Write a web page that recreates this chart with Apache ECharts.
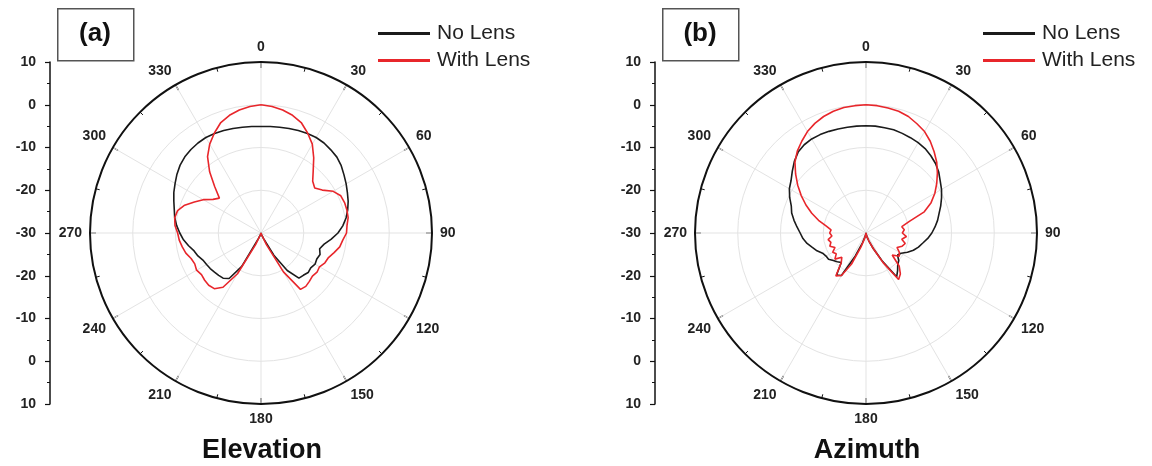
<!DOCTYPE html>
<html>
<head>
<meta charset="utf-8">
<script src="https://cdn.jsdelivr.net/npm/echarts@6/dist/echarts.min.js"></script>
<style>
  html, body { margin: 0; padding: 0; background: #ffffff; }
  #chart { width: 1152px; height: 466px; }
</style>
</head>
<body>
<div id="chart"></div>
<script>
// Measured radiation patterns (dB), sampled every 5 degrees from 0 to 355.
const angles = [
  0, 5, 10, 15, 20, 25, 30, 35, 40, 45, 50, 55,
  60, 65, 70, 75, 80, 85, 90, 95, 100, 105, 110, 115,
  120, 125, 130, 135, 140, 145, 150, 155, 160, 165, 170, 175,
  180, 185, 190, 195, 200, 205, 210, 215, 220, 225, 230, 235,
  240, 245, 250, 255, 260, 265, 270, 275, 280, 285, 290, 295,
  300, 305, 310, 315, 320, 325, 330, 335, 340, 345, 350, 355
];

// Elevation plane
const elevNoLens = [
  -5.1, -5.0, -4.9, -4.7, -4.5, -4.3, -4.2, -4.3, -4.6, -4.9, -5.5, -6.3,
  -7.0, -7.7, -8.3, -9.0, -9.8, -10.8, -12.0, -13.5, -15.0, -15.8, -15.3, -15.6,
  -15.4, -15.8, -15.6, -16.0, -16.2, -19.3, -24.0, -28.5, -29.5, -29.8, -30.0, -30.0,
  -30.0, -30.0, -30.0, -29.8, -29.5, -28.5, -21.0, -17.0, -16.2, -16.0, -15.8, -15.5,
  -15.3, -15.0, -14.3, -13.8, -12.8, -11.8, -11.0, -10.2, -9.5, -9.0, -8.3, -7.5,
  -6.8, -6.0, -5.3, -4.8, -4.5, -4.3, -4.2, -4.3, -4.5, -4.7, -4.9, -5.0
];
const elevWithLens = [
  0.0, -0.3, -0.8, -1.5, -2.5, -4.2, -6.0, -8.5, -11.0, -12.9, -13.6, -12.5,
  -10.5, -9.4, -9.2, -9.2, -9.3, -9.8, -10.0, -10.8, -11.3, -12.3, -13.2, -13.5,
  -14.2, -14.0, -14.3, -14.0, -13.7, -13.9, -19.5, -27.0, -29.5, -30.0, -30.0, -30.0,
  -30.0, -30.0, -30.0, -30.0, -29.5, -27.0, -19.0, -14.5, -13.0, -12.7, -12.8, -13.0,
  -12.6, -12.9, -12.6, -11.8, -11.3, -10.8, -10.5, -9.8, -9.5, -9.8, -11.0, -12.8,
  -14.4, -16.3, -17.3, -14.7, -11.3, -8.2, -6.0, -4.2, -2.5, -1.5, -0.8, -0.3
];

// Azimuth plane
const aziNoLens = [
  -4.9, -4.9, -5.0, -5.0, -5.2, -5.4, -5.6, -5.9, -6.4, -7.0, -7.8, -8.8,
  -9.6, -10.5, -11.4, -12.3, -13.0, -13.8, -14.6, -15.5, -16.5, -17.3, -18.2, -19.3,
  -20.5, -21.0, -20.0, -19.5, -18.5, -17.5, -22.5, -26.0, -28.0, -29.0, -29.5, -29.8,
  -30.0, -29.8, -29.5, -29.0, -27.5, -24.0, -18.5, -18.0, -21.0, -20.5, -20.0, -19.3,
  -19.2, -18.8, -17.8, -17.0, -16.0, -15.2, -14.6, -13.8, -12.9, -12.0, -11.4, -10.3,
  -9.3, -8.6, -7.5, -6.3, -5.3, -4.8, -4.6, -4.6, -4.7, -4.8, -4.9, -4.9
];
const aziWithLens = [
  0.0, -0.1, -0.3, -0.5, -1.0, -1.8, -2.6, -3.8, -5.2, -6.6, -8.2, -9.8,
  -11.4, -13.2, -15.5, -19.5, -21.5, -21.0, -21.5, -20.5, -21.5, -20.5, -21.0, -22.0,
  -21.0, -20.5, -22.0, -19.0, -17.5, -16.7, -22.0, -26.0, -28.0, -29.0, -29.5, -29.8,
  -30.0, -29.8, -29.5, -28.5, -26.5, -22.0, -18.5, -17.7, -21.0, -22.0, -20.5, -21.5,
  -21.0, -22.0, -21.0, -21.5, -21.0, -22.0, -21.5, -21.8, -20.5, -18.5, -16.5, -14.5,
  -12.5, -10.5, -8.5, -6.5, -5.0, -3.8, -2.6, -1.7, -1.0, -0.5, -0.2, -0.1
];

// Left-hand linear scale: -30 dB sits at the pole, both ends at +10 dB.
const scaleLabels = ['10', '0', '-10', '-20', '-30', '-20', '-10', '0', '10'];

const seriesNames = ['No Lens', 'With Lens'];
const panelTags = ['(a)', '(b)'];
const panelTitles = ['Elevation', 'Azimuth'];

const LINE_BLACK = '#1b1b1b';
const LINE_RED = '#e8262b';
const FONT = '"Liberation Sans", Arial, sans-serif';

// Panel layout (pixels)
const panels = [
  { cx: 261, cy: 233, axisX: 50 },
  { cx: 866, cy: 233, axisX: 655 }
];
const R = 171;

function closeLoop(vals) {
  const pts = angles.map((a, i) => [vals[i], a]);
  pts.push([vals[0], 360]);
  return pts;
}

const chart = echarts.init(document.getElementById('chart'));

const polar = panels.map(p => ({ center: [p.cx, p.cy], radius: R }));

const angleAxis = panels.map((p, i) => ({
  polarIndex: i,
  type: 'value',
  min: 0, max: 360, interval: 30,
  startAngle: 90, clockwise: true,
  axisLine: { show: true, lineStyle: { color: '#111', width: 2 } },
  axisTick: { show: true, inside: true, length: 6, lineStyle: { color: '#111', width: 1.2 } },
  minorTick: { show: true, splitNumber: 2, length: 4, lineStyle: { color: '#111', width: 1 } },
  splitLine: { show: true, lineStyle: { color: '#e3e3e3', width: 1 } },
  axisLabel: {
    margin: 8, color: '#222', fontFamily: FONT, fontWeight: 'bold', fontSize: 14,
    formatter: v => (v >= 360 ? '' : String(v))
  }
}));

const radiusAxis = panels.map((p, i) => ({
  polarIndex: i,
  type: 'value',
  min: -30, max: 10, interval: 10,
  axisLine: { show: false },
  axisTick: { show: false },
  axisLabel: { show: false },
  splitLine: { show: true, lineStyle: { color: '#e3e3e3', width: 1 } }
}));

const grid = panels.map(p => ({ left: p.axisX, top: 62, width: 1, height: 342 }));
const xAxis = panels.map((p, i) => ({ gridIndex: i, type: 'value', show: false }));
const yAxis = panels.map((p, i) => ({
  gridIndex: i,
  type: 'value', min: 0, max: 80, interval: 10, inverse: true,
  axisLine: { show: true, lineStyle: { color: '#111', width: 1.5 } },
  axisTick: { show: true, length: 5, lineStyle: { color: '#111', width: 1.2 } },
  minorTick: { show: true, splitNumber: 2, length: 3, lineStyle: { color: '#111' } },
  splitLine: { show: false },
  axisLabel: {
    margin: 14, color: '#222', fontFamily: FONT, fontWeight: 'bold', fontSize: 14,
    formatter: v => scaleLabels[Math.round(v / 10)]
  }
}));

const patternData = [
  [elevNoLens, elevWithLens],
  [aziNoLens, aziWithLens]
];

const series = [];
patternData.forEach((pair, i) => {
  pair.forEach((vals, k) => {
    series.push({
      name: seriesNames[k],
      type: 'line',
      coordinateSystem: 'polar',
      polarIndex: i,
      data: closeLoop(vals),
      showSymbol: false,
      symbol: 'none',
      smooth: false,
      lineStyle: { color: k === 0 ? LINE_BLACK : LINE_RED, width: 1.6 },
      itemStyle: { color: k === 0 ? LINE_BLACK : LINE_RED },
      z: 3 + k,
      animation: false
    });
  });
});

const legend = panels.map(p => ({
  orient: 'vertical',
  left: p.cx + 112,
  top: 18,
  padding: 5,
  icon: 'rect',
  itemWidth: 52,
  itemHeight: 3,
  itemGap: 6,
  selectedMode: false,
  textStyle: { fontFamily: FONT, fontSize: 21, color: '#222', padding: [0, 0, 0, 2] },
  data: seriesNames
}));

const graphic = [];
panels.forEach((p, i) => {
  graphic.push({
    type: 'rect',
    left: p.axisX + 7, top: 8,
    shape: { width: 76, height: 52 },
    style: { fill: '#fff', stroke: '#555', lineWidth: 1.5 }
  });
  graphic.push({
    type: 'text',
    x: p.axisX + 45, y: 34,
    style: {
      text: panelTags[i], fill: '#111', font: 'bold 26px ' + FONT,
      textAlign: 'center', textVerticalAlign: 'middle'
    }
  });
  graphic.push({
    type: 'text',
    x: p.cx + 1, y: 451,
    style: {
      text: panelTitles[i], fill: '#111', font: 'bold 27px ' + FONT,
      textAlign: 'center', textVerticalAlign: 'middle'
    }
  });
});

chart.setOption({
  animation: false,
  backgroundColor: '#ffffff',
  polar, angleAxis, radiusAxis, grid, xAxis, yAxis,
  legend, series, graphic
});
</script>
</body>
</html>
